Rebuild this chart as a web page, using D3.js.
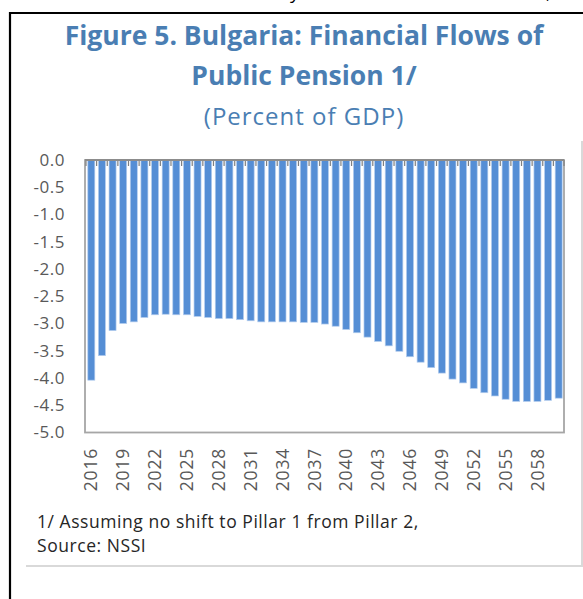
<!DOCTYPE html>
<html>
<head>
<meta charset="utf-8">
<script src="https://cdn.jsdelivr.net/npm/d3@7"></script>
<style>
  body { margin: 0; background: #fff; }
  text { font-family: "Open Sans", "Noto Sans", sans-serif; }
</style>
</head>
<body>
<div id="chart"></div>
<script>
// Data (percent of GDP)
var years = d3.range(2016, 2061);
var flows = [-4.04, -3.59, -3.13, -3.00, -2.97, -2.89, -2.84, -2.83, -2.84, -2.84,
             -2.87, -2.89, -2.91, -2.91, -2.93, -2.95, -2.97, -2.97, -2.97, -2.97,
             -2.98, -2.98, -3.01, -3.05, -3.11, -3.17, -3.25, -3.33, -3.41, -3.51,
             -3.61, -3.71, -3.81, -3.91, -4.02, -4.09, -4.19, -4.27, -4.33, -4.39,
             -4.43, -4.43, -4.43, -4.41, -4.37];
var yTicks = [0, -0.5, -1, -1.5, -2, -2.5, -3, -3.5, -4, -4.5, -5];
var xLabels = [2016, 2019, 2022, 2025, 2028, 2031, 2034, 2037, 2040, 2043, 2046, 2049, 2052, 2055, 2058];
var titleLines = ["Figure 5. Bulgaria: Financial Flows of", "Public Pension 1/"];
var subtitle = "(Percent of GDP)";
var notes = ["1/ Assuming no shift to Pillar 1 from Pillar 2,", "Source: NSSI"];

var W = 583, H = 599;
var svg = d3.select("#chart").append("svg").attr("width", W).attr("height", H);

// page fragments and frame
svg.append("text").attr("x", 290).attr("y", -1).style("font-size", "19px").style("fill", "#000").text("y");
svg.append("text").attr("x", 546).attr("y", -1).style("font-size", "19px").style("fill", "#000").text(",");
svg.append("line").attr("x1", 10).attr("x2", 10).attr("y1", 12).attr("y2", H)
  .style("stroke", "#000").style("stroke-width", 2.2);
svg.append("line").attr("x1", 9).attr("x2", W).attr("y1", 13).attr("y2", 13)
  .style("stroke", "#000").style("stroke-width", 2.2);
svg.append("line").attr("x1", 582).attr("x2", 582).attr("y1", 141).attr("y2", 566)
  .style("stroke", "#d9d9d9").style("stroke-width", 2);
svg.append("line").attr("x1", 26).attr("x2", 583).attr("y1", 566).attr("y2", 566)
  .style("stroke", "#d9d9d9").style("stroke-width", 2);

// titles
svg.selectAll(".title").data(titleLines).enter().append("text")
  .attr("class", "title")
  .attr("x", 304).attr("y", function(d, i) { return 45 + i * 40; })
  .attr("text-anchor", "middle")
  .style("font-weight", "bold").style("font-size", "26.5px").style("fill", "#4a7eb3")
  .text(String);
svg.append("text").attr("x", 304).attr("y", 125).attr("text-anchor", "middle")
  .style("font-size", "24px").style("letter-spacing", "1px").style("fill", "#4a7eb3")
  .text(subtitle);

// scales
var plotL = 86, plotR = 564, plotT = 160, plotB = 432.5;
var x = d3.scaleBand().domain(years).range([plotL, plotR]).paddingInner(0.34).paddingOuter(0.17);
var y = d3.scaleLinear().domain([-5, 0]).range([plotB, plotT]);
var fmt = function(d) { return d3.format(".1f")(d).replace("\u2212", "-"); };

// plot area border
svg.append("rect").attr("x", plotL - 1).attr("y", plotT).attr("width", plotR - plotL + 1).attr("height", plotB - plotT)
  .style("fill", "none").style("stroke", "#a6a6a6").style("stroke-width", 1.8);

// bars
svg.selectAll(".bar").data(flows).enter().append("rect")
  .attr("class", "bar")
  .attr("x", function(d, i) { return x(years[i]); })
  .attr("width", x.bandwidth())
  .attr("y", y(0))
  .attr("height", function(d) { return y(d) - y(0); })
  .style("fill", "#558ed5").style("stroke", "#b4cdee").style("stroke-width", 0.7);

// zero axis with category tick marks
var step = x.step();
svg.selectAll(".tick0").data(years.concat([2061])).enter().append("line")
  .attr("x1", function(d, i) { return plotL + i * step; })
  .attr("x2", function(d, i) { return plotL + i * step; })
  .attr("y1", y(0)).attr("y2", y(0) + 6)
  .style("stroke", "#7f7f7f").style("stroke-width", 1.2);
svg.append("line").attr("x1", plotL - 1).attr("x2", plotR).attr("y1", y(0)).attr("y2", y(0))
  .style("stroke", "#8c8c8c").style("stroke-width", 2.2);

// y labels
svg.selectAll(".ylab").data(yTicks).enter().append("text")
  .attr("class", "ylab")
  .attr("x", 65).attr("y", function(d) { return y(d); }).attr("dy", "0.35em")
  .attr("text-anchor", "end")
  .style("font-size", "17px").style("letter-spacing", "0.5px").style("fill", "#595959")
  .text(fmt);

// x labels
svg.selectAll(".xlab").data(xLabels).enter().append("text")
  .attr("class", "xlab")
  .attr("transform", function(d) { return "translate(" + (x(d) + x.bandwidth() / 2) + ",448) rotate(-90)"; })
  .attr("dy", "0.35em")
  .attr("text-anchor", "end")
  .style("font-size", "17.5px").style("letter-spacing", "0.8px").style("fill", "#595959")
  .text(String);

// notes
svg.selectAll(".note").data(notes).enter().append("text")
  .attr("class", "note")
  .attr("x", 37).attr("y", function(d, i) { return 528 + i * 23.5; })
  .style("font-size", "17.5px").style("letter-spacing", "0.55px").style("fill", "#262626")
  .text(String);
</script>
</body>
</html>
